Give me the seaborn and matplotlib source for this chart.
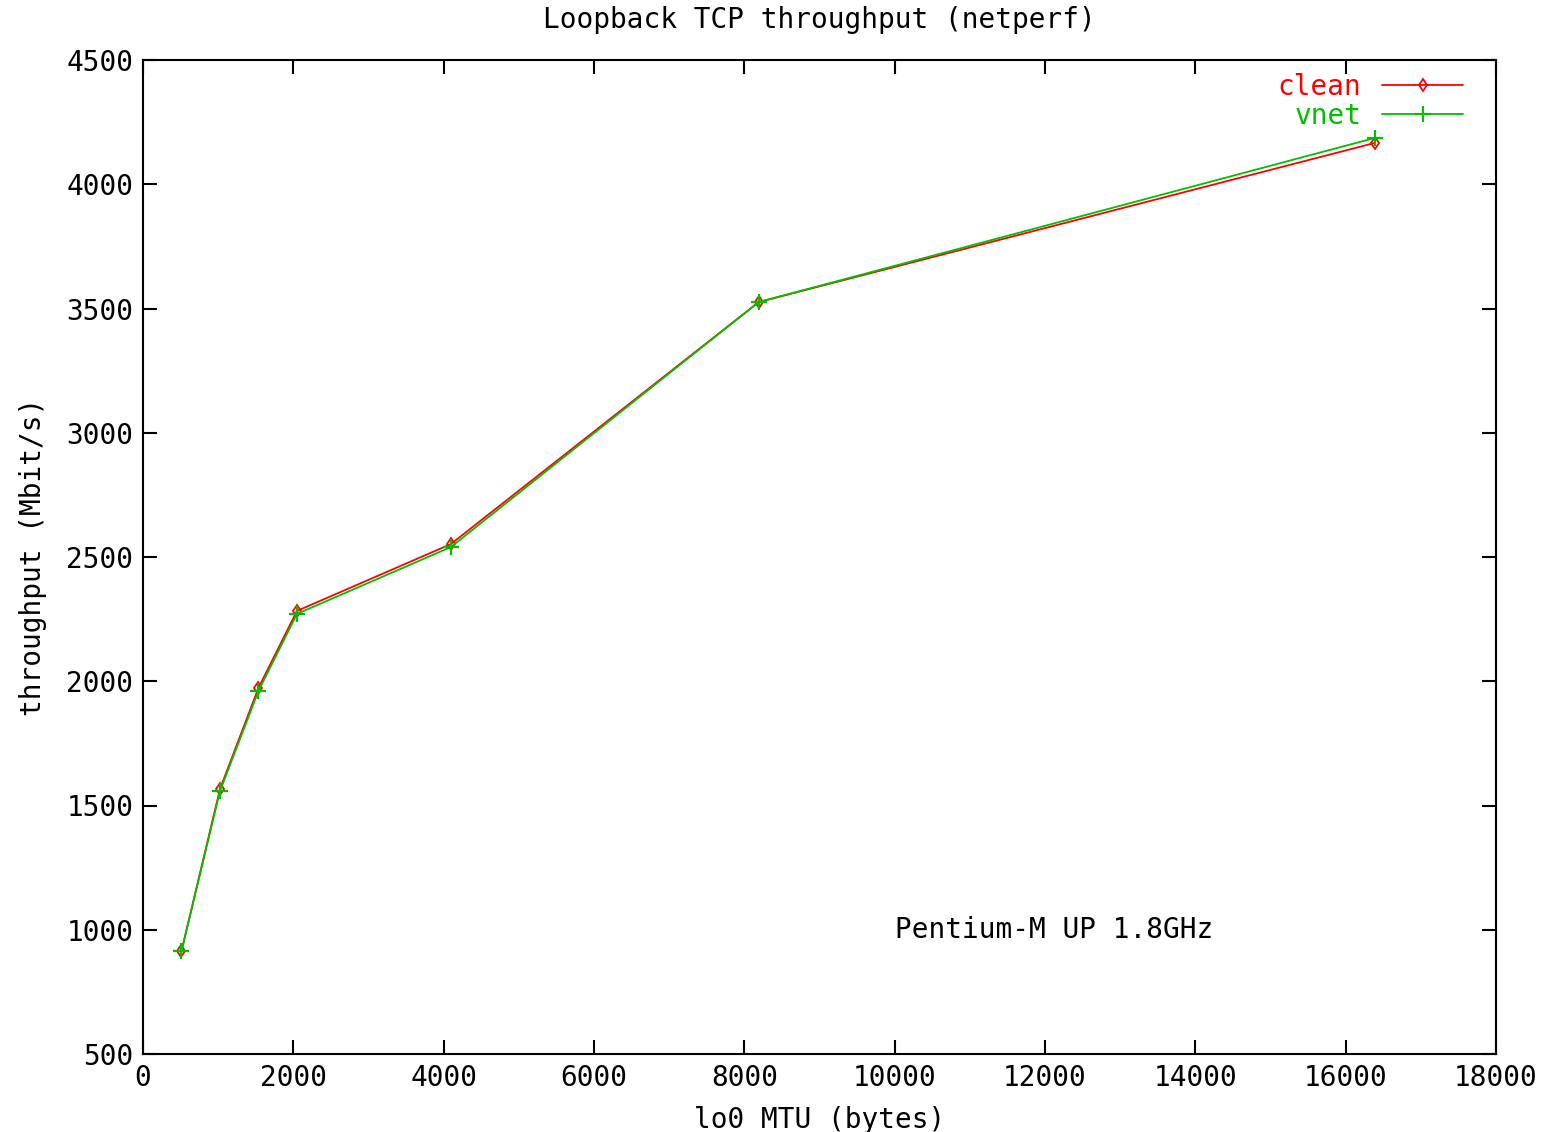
import matplotlib
matplotlib.use("Agg")
import matplotlib.pyplot as plt
import seaborn as sns
import pandas as pd

mtu = [512, 1024, 1536, 2048, 4096, 8192, 16384]
clean = [914, 1566, 1973, 2283, 2552, 3526, 4166]
vnet = [914, 1558, 1961, 2271, 2540, 3526, 4186]
xticks = [0, 2000, 4000, 6000, 8000, 10000, 12000, 14000, 16000, 18000]
yticks = [500, 1000, 1500, 2000, 2500, 3000, 3500, 4000, 4500]

sns.set_style("ticks")
plt.rcParams['font.family'] = ['DejaVu Sans Mono']
plt.rcParams['text.color'] = 'black'
plt.rcParams['axes.labelcolor'] = 'black'
FS = 20

fig = plt.figure(figsize=(15.43, 11.32), dpi=100)
ax = fig.add_axes([143/1543, 1 - 1054/1132, (1496-143)/1543, (1054-60)/1132])

df_c = pd.DataFrame({"mtu": mtu, "tp": clean})
df_v = pd.DataFrame({"mtu": mtu, "tp": vnet})
sns.lineplot(data=df_c, x="mtu", y="tp", ax=ax, color="#ff0000", marker="d",
             markersize=6, markerfacecolor="none", markeredgecolor="#ff0000",
             markeredgewidth=1.3, linewidth=1.3, label="clean")
sns.lineplot(data=df_v, x="mtu", y="tp", ax=ax, color="#00c000", marker="+",
             markersize=12, markeredgecolor="#00c000", markeredgewidth=1.6,
             linewidth=1.3, label="vnet")

ax.set_xlim(0, 18000)
ax.set_ylim(500, 4500)
ax.set_xticks(xticks)
ax.set_yticks(yticks)
ax.tick_params(direction="in", length=10, width=1.5, top=True, right=True,
               labelsize=FS, pad=7, colors="black")
for s in ax.spines.values():
    s.set_linewidth(1.5)
    s.set_color("black")

ax.set_title("Loopback TCP throughput (netperf)", fontsize=FS, pad=23, color="black")
ax.set_xlabel("lo0 MTU (bytes)", fontsize=FS, labelpad=10)
ax.set_ylabel("throughput (Mbit/s)", fontsize=FS, labelpad=14)

ax.text(10000, 1000, "Pentium-M UP 1.8GHz", fontsize=FS, ha="left", va="center")

leg = ax.legend(loc="upper right", frameon=False, markerfirst=False, numpoints=1,
                labelcolor="linecolor", fontsize=FS, handlelength=2.9,
                borderaxespad=0, borderpad=0, handletextpad=0.75,
                labelspacing=0.04, bbox_to_anchor=(1 - 33/1353, 1 - 13/994))

fig.savefig("out.png", dpi=100)
